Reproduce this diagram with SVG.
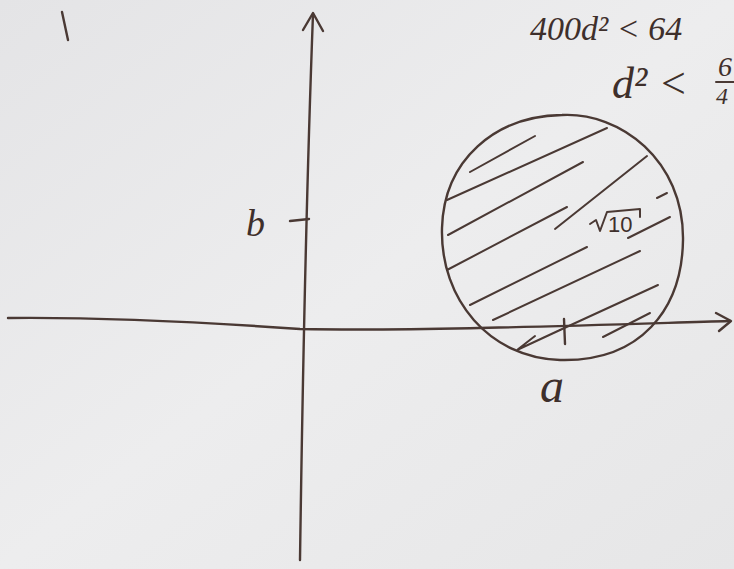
<svg xmlns="http://www.w3.org/2000/svg" width="734" height="569" viewBox="0 0 734 569">
<defs>
<linearGradient id="bg" x1="0" y1="0" x2="1" y2="1">
<stop offset="0" stop-color="#e4e4e6"/>
<stop offset="0.5" stop-color="#ededee"/>
<stop offset="1" stop-color="#e6e6e7"/>
</linearGradient>
<style>
.ink{fill:none;stroke:#4a3934;stroke-width:2.4;stroke-linecap:round;stroke-linejoin:round}
.h{fill:none;stroke:#4a3934;stroke-width:2;stroke-linecap:round}
.t{font-family:"Liberation Serif",serif;font-style:italic;fill:#3e2f2b}
</style>
</defs>
<rect width="734" height="569" fill="url(#bg)"/>
<g id="axes">
<path class="ink" d="M8 318 C100 317 200 322 300 329 C420 331 560 326 730 321"/>
<path class="ink" d="M716 313 L731 321 L719 331"/>
<path class="ink" d="M300 560 C302 420 306 200 313 14"/>
<path class="ink" d="M303 30 L313 13 L323 31"/>
<path class="ink" d="M290 221 L309 219"/>
<path class="ink" d="M564 319 L565 344"/>
</g>
<g id="circle">
<path class="ink" d="M562 115 C620 112 684 160 683 240 C682 310 640 362 560 360 C490 358 440 300 442 228 C444 160 495 116 562 115 Z"/>
<g id="hatch">
<line class="h" x1="470" y1="172" x2="535" y2="136"/>
<line class="h" x1="447" y1="200" x2="607" y2="128"/>
<line class="h" x1="448" y1="235" x2="583" y2="162"/>
<line class="h" x1="447" y1="270" x2="567" y2="207"/>
<line class="h" x1="555" y1="229" x2="647" y2="156"/>
<line class="h" x1="470" y1="305" x2="587" y2="247"/>
<line class="h" x1="493" y1="320" x2="640" y2="251"/>
<line class="h" x1="628" y1="238" x2="670" y2="217"/>
<line class="h" x1="657" y1="198" x2="667" y2="193"/>
<line class="h" x1="560" y1="330" x2="658" y2="285"/>
<path class="h" d="M535 336 L517 350 L560 330"/>
<line class="h" x1="603" y1="337" x2="650" y2="313"/>
</g>
</g>
<g id="labels">
<text class="t" x="246" y="236" font-size="38">b</text>
<text class="t" x="540" y="402" font-size="48">a</text>
<path class="ink" style="stroke-width:2" d="M590 224 L596 220 L600 231 L607 212 L640 209 L640 217"/>
<text x="608" y="232" font-family="Liberation Sans,sans-serif" font-size="22" fill="#3e2f2b">10</text>
<text class="t" x="530" y="40" font-size="34">400d² &lt; 64</text>
<text class="t" x="612" y="98" font-size="44">d² &lt;</text>
<text class="t" x="718" y="76" font-size="28">6</text>
<line class="h" x1="716" y1="82" x2="734" y2="82"/>
<text class="t" x="716" y="104" font-size="24">4</text>
<path class="ink" d="M62 12 L68 40"/>
</g>
</svg>
